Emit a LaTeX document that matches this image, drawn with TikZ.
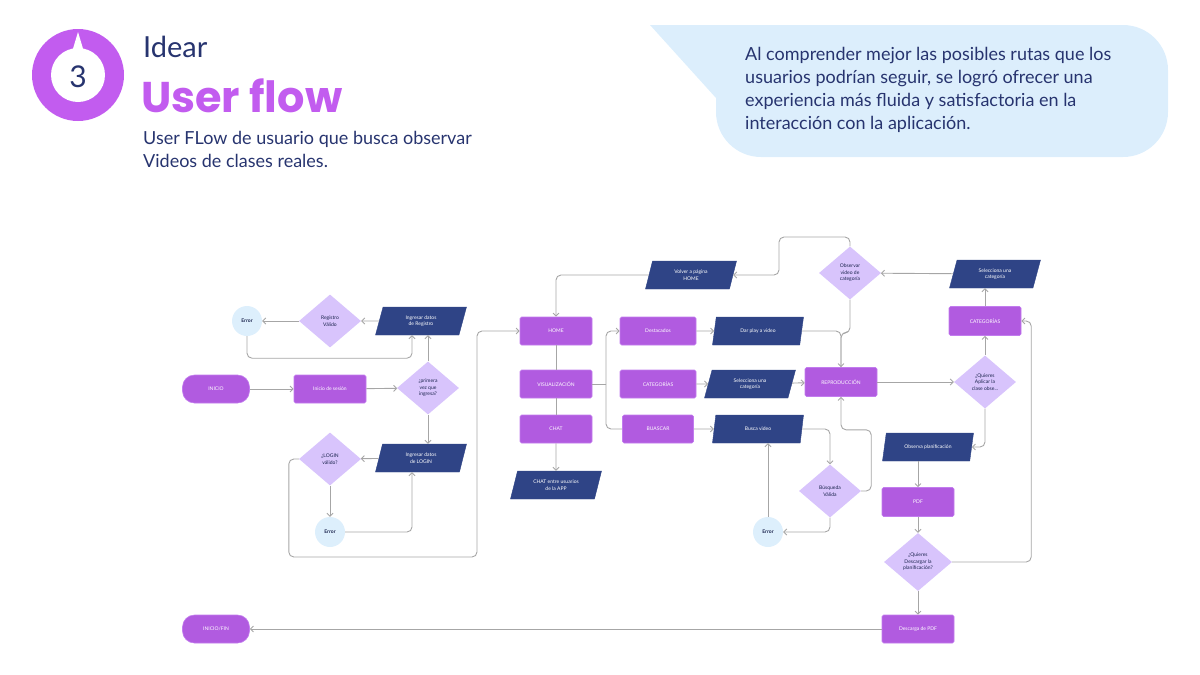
\documentclass[tikz,border=0pt]{standalone}
\usepackage{fontspec}
\setmainfont{Lato}
\newfontfamily\heavyfont{Poppins}
\usetikzlibrary{arrows.meta, shapes.geometric}

\definecolor{flowpurple}{HTML}{B15BE0}
\definecolor{flowedge}{HTML}{C27CEE}
\definecolor{ringpurple}{HTML}{C25CEF}
\definecolor{flownavy}{HTML}{2F4486}
\definecolor{flowlilac}{HTML}{D8C4FC}
\definecolor{flowsky}{HTML}{DDEFFC}
\definecolor{bubblefill}{HTML}{DCEEFC}
\definecolor{textnavy}{HTML}{27346F}
\definecolor{linegray}{HTML}{A6A6A6}

\begin{document}
\begin{tikzpicture}[x=1pt, y=-1pt, >={Straight Barb[length=3pt, width=6pt]},
    proc/.style={rectangle, fill=flowpurple, draw=flowedge, line width=0.6pt, text=white,
        minimum width=72pt, minimum height=28pt, inner sep=1pt, rounded corners=1.5pt,
        font=\fontsize{5}{6}\selectfont},
    term/.style={proc, minimum width=67pt, rounded corners=12pt},
    data/.style={trapezium, trapezium left angle=60, trapezium right angle=120,
        trapezium stretches body, fill=flownavy, draw=flownavy, text=white,
        minimum width=91pt, minimum height=28pt, inner sep=1pt, align=center,
        font=\fontsize{5}{6.5}\selectfont},
    decision/.style={diamond, aspect=1.17, fill=flowlilac, text=textnavy!70!black,
        minimum width=62pt, minimum height=53pt, inner sep=0pt, align=center,
        font=\fontsize{5}{6.5}\selectfont},
    errnode/.style={circle, fill=flowsky, text=textnavy!70!black, minimum size=30pt,
        inner sep=0pt, font=\bfseries\fontsize{5}{6}\selectfont},
    flow/.style={draw=linegray, line width=0.9pt, rounded corners=5pt}]

    \useasboundingbox (0,0) rectangle (1200,675);

    % Header
    \fill[ringpurple] (78,75) circle (46pt);
    \fill[white] (78,75) circle (27pt);
    \fill[white] (72,52) -- (78,32) -- (84,52) -- cycle;
    \node[text=textnavy, font=\fontsize{30}{30}\selectfont] (num) at (78,77) {3};
    \node[anchor=base west, inner sep=0, text=textnavy, font=\fontsize{29}{29}\selectfont] (idear) at (143,57) {Idear};
    \node[anchor=base west, inner sep=0, text=ringpurple, font=\heavyfont\bfseries\fontsize{43}{43}\selectfont] (titulo) at (141,112) {User flow};
    \node[anchor=north west, inner sep=0, align=left, text=textnavy, font=\fontsize{18}{23}\selectfont] (subtitulo) at (143,131)
        {User FLow de usuario que busca observar\\Videos de clases reales.};

    % Speech bubble
    \fill[bubblefill] (650,25) -- (762,25) -- (716,98) -- cycle;
    \fill[bubblefill, rounded corners=45pt] (716,25) rectangle (1168,157);
    \node[anchor=north west, inner sep=0, align=left, text=textnavy, font=\fontsize{18}{23}\selectfont] (nota) at (745,47)
        {Al comprender mejor las posibles rutas que los\\usuarios podrían seguir, se logró ofrecer una\\experiencia más fluida y satisfactoria en la\\interacción con la aplicación.};

    % Login and registration
    \node[term] (inicio) at (216,389) {INICIO};
    \node[proc] (sesion) at (330,389) {Inicio de sesión};
    \node[decision] (primera) at (428,388) {¿primera\\vez que\\ingresa?};
    \node[data] (registro) at (421,321) {Ingresar datos\\de Registro};
    \node[decision] (regval) at (330,321) {Registro\\Válido};
    \node[errnode] (err1) at (247,321) {Error};
    \node[data] (login) at (421,458) {Ingresar datos\\de LOGIN};
    \node[decision] (logval) at (330,459) {¿LOGIN\\válido?};
    \node[errnode] (err2) at (330,532) {Error};
    \coordinate (loopbot) at (477,557);

    % Main menu
    \node[proc] (home) at (556,331) {HOME};
    \node[proc] (visual) at (556,384) {VISUALIZACIÓN};
    \node[proc] (chat) at (556,429) {CHAT};
    \node[data] (chatapp) at (556,485) {CHAT entre usuarios\\de la APP};
    \node[data] (volver) at (691,275) {Volver a página\\HOME};
    \coordinate (fork) at (606,384);
    \coordinate (vtop) at (779,237);

    % Options
    \node[proc, minimum width=76pt] (destac) at (658,331) {Destacados};
    \node[proc, minimum width=76pt] (categ) at (658,384) {CATEGORÍAS};
    \node[proc, minimum width=71pt] (buscar) at (658,429) {BUASCAR};
    \node[data] (play) at (758,331) {Dar play a video};
    \node[data] (selcat) at (750,384) {Selecciona una\\categoría};
    \node[data] (busca) at (758,429) {Busca video};
    \node[proc, minimum height=29pt] (repro) at (841,382) {REPRODUCCIÓN};
    \node[decision] (busval) at (830,491) {Búsqueda\\Válida};
    \node[errnode] (err3) at (768,532) {Error};

    % Categories and planning
    \node[decision] (observar) at (850,273) {Observar\\video de\\categoría};
    \node[data] (selcat2) at (995,274) {Selecciona una\\categoría};
    \node[proc, minimum height=29pt] (categ2) at (985,321) {CATEGORÍAS};
    \node[decision] (aplicar) at (985,382) {¿Quieres\\Aplicar la\\clase obse...};
    \node[data] (obsplan) at (928,447) {Observa planificación};
    \node[proc, minimum height=29pt] (pdf) at (918,502) {PDF};
    \node[decision, minimum width=68pt, minimum height=58pt] (descargar) at (918,562) {¿Quieres\\Descargar la\\planificación?};
    \node[proc] (descpdf) at (918,629) {Descarga de PDF};
    \node[term] (fin) at (216,629) {INICIO/FIN};

    % Straight connectors
    \foreach \a/\b in {inicio/sesion, sesion/primera, registro/regval, regval/err1,
                       login/logval, destac/play, categ/selcat, buscar/busca,
                       selcat/repro, repro/aplicar, selcat2/observar, descpdf/fin}
        \draw[flow, ->] (\a) -- (\b);
    \foreach \a/\b in {logval/err2, chat/chatapp, pdf/descargar, descargar/descpdf}
        \draw[flow, ->] (\a.south) -- (\b.north);
    \draw[flow, ->] (aplicar.north) -- (categ2.south);
    \draw[flow] (home) -- (visual);
    \draw[flow] (visual) -- (chat);

    % Login loops
    \draw[flow, ->] (primera.north) -- (primera.north |- registro.south);
    \draw[flow, ->] (primera.south) -- (primera.south |- login.north);
    \draw[flow, ->] (err1.south) -- ++(0,22) -| ([xshift=-9pt]registro.south);
    \draw[flow, ->] (err2.east) -| ([xshift=-9pt]login.south);
    \draw[flow, ->] (logval.west) -- ++(-10,0) |- (loopbot) |- (home.west);

    % Menu branches
    \draw[flow] (visual.east) -- (fork);
    \draw[flow, ->] (fork) |- (destac.west);
    \draw[flow] (fork) |- (buscar.west);
    \draw[flow, ->] (volver.west) -| (home.north);
    \draw[flow, ->] (observar.north) |- (vtop) |- (volver.east);

    % Playback
    \draw[flow, ->] (play.east) -| (repro.north);
    \draw[flow] (observar.south) -- ++(0,33) -| (repro.north);
    \draw[flow, ->] (busca.east) -| (busval.north);
    \draw[flow, ->] (busval.east) -- ++(10,0) |- ([yshift=-33pt]repro.south) -- (repro.south);
    \draw[flow, ->] (busval.south) |- (err3.east);
    \draw[flow, ->] (err3.north) -- (err3.north |- busca.south);

    % Planning
    \draw[flow, ->] (categ2.north) -- (categ2.north |- selcat2.south);
    \draw[flow, ->] (aplicar.south) |- (obsplan.east);
    \draw[flow, ->] (pdf.north |- obsplan.south) -- (pdf.north);
    \draw[flow, ->] (descargar.east) -- ++(79,0) |- (categ2.east);

\end{tikzpicture}
\end{document}
